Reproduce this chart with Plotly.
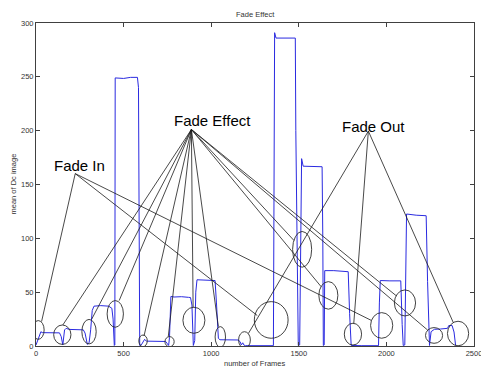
import plotly.graph_objects as go

# ---- blue trace: mean of DC image per frame ----
frames = [0, 10, 22, 28, 35, 80, 134, 144, 153, 163, 172, 190, 230, 270, 280, 293, 303, 312, 321, 331,
          370, 415, 433, 440, 447, 450, 452, 500, 540, 579, 585, 587, 592, 601, 610, 620, 630, 640, 700,
          740, 750, 757, 762, 770, 788, 830, 870, 882, 890, 895, 898, 906, 912, 919, 960, 1000, 1022,
          1030, 1041, 1050, 1100, 1153, 1165, 1172, 1180, 1186, 1195, 1250, 1355, 1358, 1362, 1370,
          1420, 1480, 1483, 1490, 1497, 1505, 1512, 1516, 1525, 1600, 1633, 1637, 1640, 1645, 1648,
          1700, 1760, 1782, 1790, 1799, 1860, 1955, 1960, 1965, 2020, 2082, 2090, 2096, 2105, 2110,
          2115, 2170, 2227, 2235, 2246, 2255, 2274, 2310, 2349, 2356, 2375, 2386, 2395]
mean_dc = [0.9, 6, 11.8, 13.3, 12.4, 12.4, 12.2, 8.7, 1.0, 14.9, 16.4, 15.4, 15.2, 15.0, 12, 1.5, 3, 15, 33, 37,
           37.5, 37, 35, 25, 0.5, 1, 249, 248.5, 249.5, 249.5, 240, 163, 0.5, 1, 4, 6.2, 4.5, 4.5, 4.3,
           4.2, 2, 0.5, 8, 46, 45.5, 45.8, 45.2, 45.0, 38, 10, 0.5, 5, 50, 61.5, 61, 60.5, 60.8,
           40, 7.1, 5.8, 5.6, 5.6, 4, 1, 3, 1, 0.3, 0.3, 0.3, 120, 291, 286,
           286, 286, 200, 60, 0.5, 1, 100, 174, 167, 167, 166.5, 100, 0.5, 1, 70,
           70, 69.5, 69, 30, 0.5, 0.3, 0.3, 40, 60.8, 60.5, 60.5, 20, 0.5, 1, 80,
           122.6, 121.5, 121, 60, 0.5, 13.3, 15.5, 15.8, 16.4, 19, 19, 13, 0.5]

# ---- circles: centre (frame, value) and half sizes ----
circle_x = [12.9, 150.2, 302.7, 452.4, 611, 762.3, 901.3, 1052, 1190, 1342.5, 1519, 1668.7, 1809, 1973, 2106, 2272, 2409]
circle_y = [14.9, 10.5, 13.3, 29.8, 4.8, 4.0, 23.9, 8.4, 5.6, 24.2, 89.8, 47.0, 11.0, 19.1, 40.0, 9.8, 11.6]
circle_rx = [33.6, 49.3, 40.9, 46.5, 24.1, 26.3, 62.8, 29.7, 33.6, 96.4, 54.4, 54.4, 49.3, 63.3, 60.5, 48.8, 60.5]
circle_ry = [8.7, 9.0, 11.4, 12.4, 5.4, 4.7, 12.1, 9.6, 7.7, 17.0, 16.6, 12.8, 10.1, 11.9, 12.1, 7.3, 11.4]

# ---- labels ----
labels = ["Fade In", "Fade Effect", "Fade Out"]
label_x = [246, 1009, 1928]
label_y = [167.5, 209.4, 204.3]
anchor_x = [224, 887, 1897]
anchor_y = [160.1, 201.1, 199.6]

# ---- pointer lines: label index and end point ----
pointer_label = [0, 0, 0,
                 1, 1, 1, 1, 1, 1, 1, 1, 1, 1, 1,
                 2, 2, 2]
pointer_x = [31.8, 1262.9, 1914.8,
             153, 317.8, 474.8, 616.6, 755, 896.8, 1040.9, 1472, 1627, 2056, 2236,
             1211.8, 1813.8, 2381.7]
pointer_y = [22.7, 28.3, 23.7,
             19.5, 24.9, 42.2, 9.3, 8.7, 36, 18, 98.1, 55.2, 46.7, 14.7,
             11.5, 21.0, 21.8]

fig = go.Figure()
fig.add_trace(go.Scatter(x=frames, y=mean_dc, mode="lines",
                         line=dict(color="#2a2ae0", width=1), showlegend=False,
                         hoverinfo="skip"))

shapes = []
for cx, cy, rx, ry in zip(circle_x, circle_y, circle_rx, circle_ry):
    shapes.append(dict(type="circle", xref="x", yref="y",
                       x0=cx - rx, x1=cx + rx, y0=cy - ry, y1=cy + ry,
                       line=dict(color="#2b2b2b", width=0.9)))
for li, px, py in zip(pointer_label, pointer_x, pointer_y):
    shapes.append(dict(type="line", xref="x", yref="y",
                       x0=anchor_x[li], y0=anchor_y[li], x1=px, y1=py,
                       line=dict(color="#1a1a1a", width=0.8)))

annotations = []
for t, x, y in zip(labels, label_x, label_y):
    annotations.append(dict(text=t, x=x, y=y, xref="x", yref="y", showarrow=False,
                            font=dict(family="Liberation Sans, Arial", size=15, color="#000000"),
                            xanchor="center", yanchor="middle"))
small = dict(family="Liberation Sans, Arial", size=7.5, color="#333333")
annotations.append(dict(text="Fade Effect", x=0.5, y=1, xref="paper", yref="paper",
                        showarrow=False, yanchor="middle", yshift=9, font=small))
annotations.append(dict(text="number of Frames", x=0.5, y=0, xref="paper", yref="paper",
                        showarrow=False, yanchor="middle", yshift=-17, font=small))
annotations.append(dict(text="mean of Dc image", x=0, y=0.5, xref="paper", yref="paper",
                        showarrow=False, xanchor="center", xshift=-23, textangle=-90, font=small))

axis_common = dict(showgrid=False, zeroline=False, showline=True, linecolor="#404040",
                   linewidth=1, mirror="ticks", ticks="inside", ticklen=4, tickcolor="#404040",
                   tickfont=small, ticklabeloverflow="allow")
fig.update_layout(
    width=481, height=359,
    margin=dict(l=28, r=7, t=15, b=21),
    paper_bgcolor="white", plot_bgcolor="white",
    shapes=shapes, annotations=annotations,
    xaxis=dict(range=[0, 2500], tickvals=[0, 500, 1000, 1500, 2000, 2500], **axis_common),
    yaxis=dict(range=[0, 300], tickvals=[0, 50, 100, 150, 200, 250, 300], **axis_common),
)
fig.write_html("out.html")
